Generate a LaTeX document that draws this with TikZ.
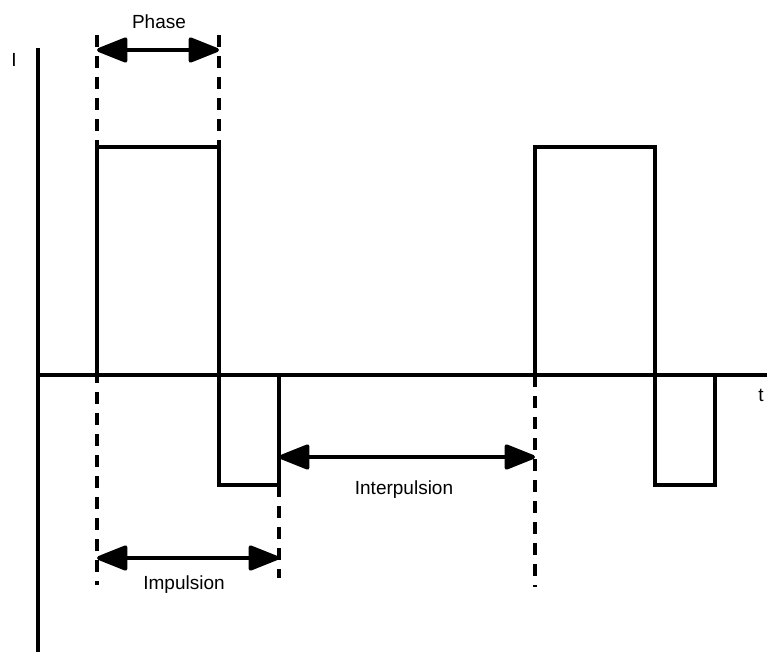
\documentclass[tikz,border=0pt]{standalone}
\usepackage{fontspec}
\setmainfont{Liberation Sans}
\usetikzlibrary{arrows.meta}
\begin{document}
\begin{tikzpicture}[x=1pt,y=-1pt,
  axis/.style={line width=3.8pt},
  wave/.style={line width=4.6pt,line join=miter},
  guide/.style={line width=4.6pt,dash pattern=on 12pt off 9pt},
  dim/.style={line width=4pt,{Triangle[length=34pt,width=26pt,round]}-{Triangle[length=34pt,width=26pt,round]}},
  lbl/.style={font=\fontsize{19}{22}\selectfont,inner sep=0pt}]
\useasboundingbox (0,0) rectangle (767,655);
% axes
\coordinate (otop) at (38,48);
\coordinate (obot) at (38,652);
\coordinate (o) at (38,375);
\coordinate (xend) at (767,375);
\draw[axis] (otop) -- (obot);
\draw[axis] (o) -- (xend);
\node[lbl] (ilbl) at (14,60) {I};
\node[lbl] (tlbl) at (761,395) {t};
% guides
\coordinate (g1t) at (97,35);  \coordinate (g1b) at (97,585);
\coordinate (g2t) at (219,35); \coordinate (g2b) at (219,147);
\coordinate (g3t) at (279,485); \coordinate (g3b) at (279,578);
\coordinate (g4t) at (535,375); \coordinate (g4b) at (535,587);
\draw[guide] (g1t) -- (g1b);
\draw[guide] (g2t) -- (g2b);
\draw[guide] (g3t) -- (g3b);
\draw[guide] (g4t) -- (g4b);
% waveform
\draw[wave] (97,375) -- (97,147) -- (219,147) -- (219,485) -- (279,485) -- (279,375);
\draw[wave] (535,375) -- (535,147) -- (655,147) -- (655,485) -- (715,485) -- (715,375);
% dimension arrows
\coordinate (pa) at (97,50);  \coordinate (pb) at (219,50);
\coordinate (ia) at (97,558); \coordinate (ib) at (279,558);
\coordinate (ja) at (279,457); \coordinate (jb) at (535,457);
\draw[dim] (pa) -- (pb);
\draw[dim] (ia) -- (ib);
\draw[dim] (ja) -- (jb);
\node[lbl] (phase) at (159,22) {Phase};
\node[lbl] (imp) at (184,585) {Impulsion};
\node[lbl] (inter) at (404,490) {Interpulsion};
\end{tikzpicture}
\end{document}
